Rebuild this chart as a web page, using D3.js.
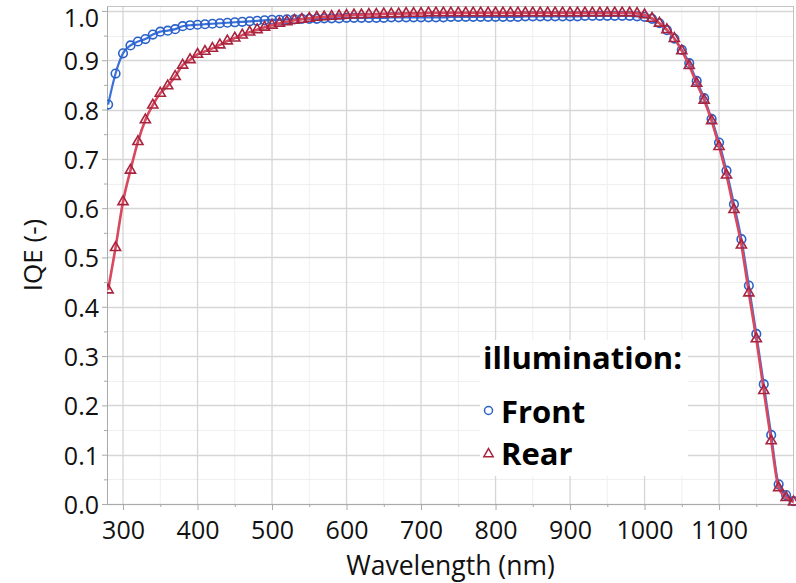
<!DOCTYPE html>
<html><head><meta charset="utf-8">
<script src="https://cdn.jsdelivr.net/npm/d3@7"></script>
<style>body{margin:0;background:#fff}svg{display:block}</style>
</head><body><svg id="c" width="796" height="583"></svg>
<script>
const wavelengths = [280,290,300,310,320,330,340,350,360,370,380,390,400,410,420,430,440,450,460,470,480,490,500,510,520,530,540,550,560,570,580,590,600,610,620,630,640,650,660,670,680,690,700,710,720,730,740,750,760,770,780,790,800,810,820,830,840,850,860,870,880,890,900,910,920,930,940,950,960,970,980,990,1000,1010,1020,1030,1040,1050,1060,1070,1080,1090,1100,1110,1120,1130,1140,1150,1160,1170,1180,1190,1200];
const frontIQE = [0.810,0.873,0.914,0.930,0.938,0.943,0.952,0.958,0.960,0.963,0.969,0.971,0.972,0.973,0.974,0.975,0.976,0.977,0.978,0.979,0.980,0.981,0.982,0.982,0.983,0.983,0.984,0.984,0.984,0.985,0.985,0.985,0.986,0.986,0.986,0.986,0.986,0.986,0.987,0.987,0.987,0.987,0.987,0.987,0.987,0.987,0.988,0.988,0.988,0.988,0.988,0.988,0.988,0.988,0.988,0.988,0.989,0.989,0.989,0.989,0.989,0.989,0.989,0.989,0.990,0.990,0.990,0.990,0.990,0.990,0.990,0.989,0.988,0.984,0.975,0.961,0.944,0.921,0.894,0.858,0.823,0.781,0.733,0.676,0.608,0.537,0.443,0.345,0.243,0.140,0.040,0.018,0.006];
const rearIQE = [0.434,0.520,0.613,0.677,0.735,0.779,0.809,0.833,0.848,0.867,0.890,0.901,0.912,0.918,0.924,0.931,0.939,0.945,0.951,0.957,0.962,0.967,0.971,0.975,0.978,0.981,0.983,0.985,0.987,0.988,0.989,0.990,0.991,0.992,0.992,0.993,0.993,0.994,0.994,0.994,0.995,0.995,0.995,0.996,0.996,0.996,0.996,0.996,0.996,0.996,0.996,0.996,0.996,0.996,0.996,0.996,0.996,0.996,0.996,0.996,0.996,0.996,0.996,0.996,0.996,0.996,0.996,0.996,0.996,0.996,0.996,0.995,0.992,0.985,0.975,0.962,0.944,0.919,0.889,0.853,0.819,0.777,0.725,0.667,0.597,0.525,0.428,0.335,0.230,0.128,0.033,0.013,0.004];
const xTicks = [300,400,500,600,700,800,900,1000,1100];
const xMinorTicks = [350,450,550,650,750,850,950,1050,1150];
const yTicks = [0.0,0.1,0.2,0.3,0.4,0.5,0.6,0.7,0.8,0.9,1.0];
const yMinorTicks = [0.05,0.15,0.25,0.35,0.45,0.55,0.65,0.75,0.85,0.95];
const legendTitle = "illumination:";
const seriesNames = ["Front","Rear"];

const svg = d3.select("#c");
const L = 107, R = 794, T = 6, B = 504;
const x = d3.scaleLinear().domain([278.5, 1200.6]).range([L, R]);
const y = d3.scaleLinear().domain([0, 1.01]).range([B, T]);
const font = "'Open Sans', 'Segoe UI', sans-serif";

// gridlines
const g = svg.append("g");
g.selectAll(".vmin").data(xMinorTicks).join("line")
  .attr("x1", d => x(d)).attr("x2", d => x(d)).attr("y1", T).attr("y2", B)
  .attr("stroke", "#efefef").attr("stroke-width", 1);
g.selectAll(".hmin").data(yMinorTicks).join("line")
  .attr("x1", L).attr("x2", R).attr("y1", d => Math.round(y(d))+0.5).attr("y2", d => Math.round(y(d))+0.5)
  .attr("stroke", "#efefef").attr("stroke-width", 1);
g.selectAll(".vmaj").data(xTicks).join("line")
  .attr("x1", d => x(d)).attr("x2", d => x(d)).attr("y1", T).attr("y2", B)
  .attr("stroke", "#d6d6d6").attr("stroke-width", 1.3);
g.selectAll(".hmaj").data(yTicks).join("line")
  .attr("x1", L).attr("x2", R).attr("y1", d => Math.round(y(d))+0.5).attr("y2", d => Math.round(y(d))+0.5)
  .attr("stroke", "#d6d6d6").attr("stroke-width", 1.3);

// frame
svg.append("rect").attr("x", L+0.5).attr("y", T+0.5).attr("width", R-L-1).attr("height", B-T)
  .attr("fill", "none").attr("stroke", "#c4c4c4").attr("stroke-width", 1);

// legend background
svg.append("rect").attr("x", 480).attr("y", 340).attr("width", 208).attr("height", 136).attr("fill", "#fff");

// axes
const xAxis = d3.axisBottom(x).tickValues(xTicks).tickSize(6).tickSizeOuter(0).tickFormat(d3.format("d"));
const gx = svg.append("g").attr("transform", `translate(0,${B})`).call(xAxis);
gx.select(".domain").attr("stroke", "#aaa");
gx.selectAll(".tick line").attr("stroke", "#aaa");
gx.selectAll(".tick text").attr("font-family", font).attr("font-size", 25).attr("fill", "#111").attr("dy", null).attr("y", 35);
const xMinorAxis = d3.axisBottom(x).tickValues(xMinorTicks).tickSize(3).tickFormat("");
const gxm = svg.append("g").attr("transform", `translate(0,${B})`).call(xMinorAxis);
gxm.select(".domain").remove(); gxm.selectAll(".tick line").attr("stroke", "#aaa");

const yAxis = d3.axisLeft(y).tickValues(yTicks).tickSize(5).tickSizeOuter(0).tickFormat(d3.format(".1f"));
const gy = svg.append("g").attr("transform", `translate(${L},0)`).call(yAxis);
gy.select(".domain").attr("stroke", "#aaa");
gy.selectAll(".tick line").attr("stroke", "#aaa");
gy.selectAll(".tick text").attr("font-family", font).attr("font-size", 25).attr("fill", "#111").attr("x", -8)
  .attr("dy", d => d === 1.0 ? "0.64em" : "0.38em");
const yMinorAxis = d3.axisLeft(y).tickValues(yMinorTicks).tickSize(3).tickFormat("");
const gym = svg.append("g").attr("transform", `translate(${L},0)`).call(yMinorAxis);
gym.select(".domain").remove(); gym.selectAll(".tick line").attr("stroke", "#aaa");

// axis titles
svg.append("text").attr("x", (L+R)/2).attr("y", 575).attr("text-anchor", "middle")
  .attr("font-family", font).attr("font-size", 26.5).attr("fill", "#111").text("Wavelength (nm)");
svg.append("text").attr("transform", "translate(42,255) rotate(-90)").attr("text-anchor", "middle")
  .attr("font-family", font).attr("font-size", 26).attr("fill", "#111").text("IQE (-)");

// clip
svg.append("clipPath").attr("id", "clip").append("rect").attr("x", L).attr("y", T).attr("width", R-L+2).attr("height", B-T+4);
const plot = svg.append("g").attr("clip-path", "url(#clip)");

const front = wavelengths.map((w, i) => ({w, v: frontIQE[i]}));
const rear = wavelengths.map((w, i) => ({w, v: rearIQE[i]}));
const line = d3.line().x(d => x(d.w)).y(d => y(d.v)).curve(d3.curveMonotoneX);

const blueLine = "#3a70dc", blueMark = "#2b62c9";
const redLine = "#d8485e", redMark = "#a8243e";

plot.append("path").datum(front).attr("d", line).attr("fill", "none").attr("stroke", blueLine).attr("stroke-width", 2.2);
plot.selectAll(".fc").data(front).join("circle")
  .attr("cx", d => x(d.w)).attr("cy", d => y(d.v)).attr("r", 4.3)
  .attr("fill", "none").attr("stroke", blueMark).attr("stroke-width", 1.6);

plot.append("path").datum(rear).attr("d", line).attr("fill", "none").attr("stroke", redLine).attr("stroke-width", 2.6);
const tri = d3.symbol().type(d3.symbolTriangle).size(44);
plot.selectAll(".rt").data(rear).join("path")
  .attr("d", tri).attr("transform", d => `translate(${x(d.w)},${y(d.v)})`)
  .attr("fill", "none").attr("stroke", redMark).attr("stroke-width", 1.6);

// legend
svg.append("text").attr("x", 483).attr("y", 369).attr("font-family", font).attr("font-weight", "bold")
  .attr("font-size", 31).attr("fill", "#000").text(legendTitle);
svg.append("circle").attr("cx", 488.5).attr("cy", 410.5).attr("r", 4).attr("fill", "none").attr("stroke", blueMark).attr("stroke-width", 1.5);
svg.append("text").attr("x", 501).attr("y", 423).attr("font-family", font).attr("font-weight", "bold")
  .attr("font-size", 31).attr("fill", "#000").text(seriesNames[0]);
svg.append("path").attr("d", d3.symbol().type(d3.symbolTriangle).size(38)).attr("transform", "translate(488.5,454)").attr("fill", "none").attr("stroke", redMark).attr("stroke-width", 1.5);
svg.append("text").attr("x", 501).attr("y", 465).attr("font-family", font).attr("font-weight", "bold")
  .attr("font-size", 31).attr("fill", "#000").text(seriesNames[1]);
</script></body></html>
